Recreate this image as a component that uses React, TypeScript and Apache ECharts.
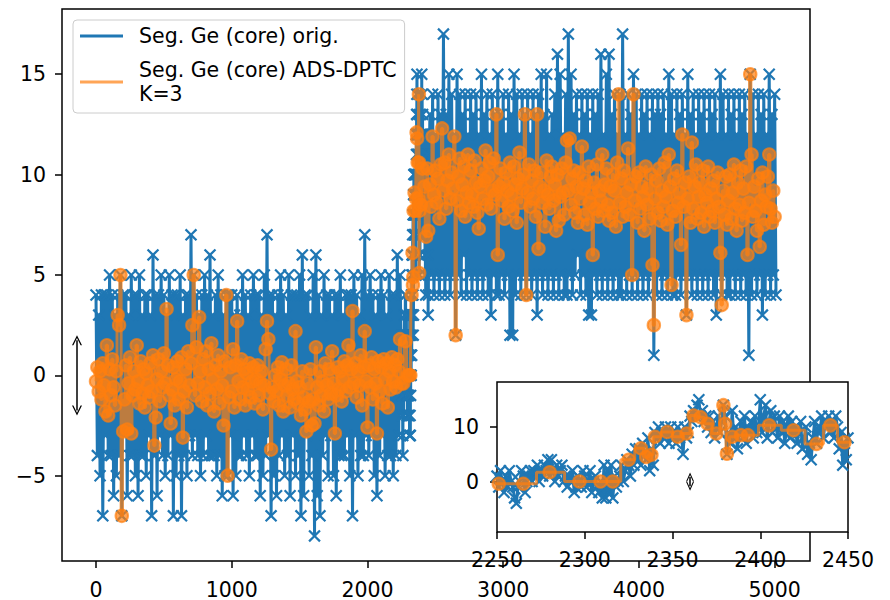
import React, { useEffect, useRef } from 'react';
import * as echarts from 'echarts';

// ---------------- data ----------------
// blue, low segment, local max/min read every 10 samples: x = 0, 10, ..., 2240
const blueLowStart = 0;
const blueLowStep = 10;
const blueLow = [
  4, -4, 3, -5, 4, -7, 4, -3, 4, -4,
  5, -4, 4, -6, 3, -5, 4, -4, 5, -7,
  4, -3, 4, -6, 3, -4, 5, -4, 4, -5,
  4, -6, 5, -4, 3, -4, 4, -5, 4, -3,
  3, -7, 6, -4, 4, -6, 4, -3, 5, -4,
  4, -5, 3, -4, 5, -3, 4, -7, 4, -5,
  4, -4, 5, -7, 3, -4, 4, -5, 4, -3,
  7, -4, 5, -3, 4, -4, 3, -5, 4, -4,
  5, -3, 4, -4, 6, -4, 3, -4, 4, -5,
  5, -4, 4, -6, 3, -5, 4, -5, 4, -3,
  4, -6, 3, -5, 4, -4, 3, -4, 5, -3,
  4, -4, 3, -5, 4, -3, 5, -4, 4, -4,
  4, -6, 3, -5, 5, -4, 7, -3, 4, -7,
  4, -5, 3, -6, 4, -4, 5, -3, 4, -5,
  3, -4, 5, -6, 4, -3, 4, -5, 4, -4,
  5, -7, 6, -6, 4, -3, 4, -5, 3, -4,
  5, -8, 6, -6, 4, -7, 3, -4, 5, -3,
  4, -5, 4, -3, 3, -5, 4, -6, 4, -4,
  5, -4, 3, -4, 4, -3, 4, -5, 4, -7,
  5, -3, 4, -5, 3, -4, 5, -4, 7, -3,
  4, -4, 5, -3, 4, -5, 3, -6, 4, -4,
  5, -3, 4, -5, 3, -4, 5, -4, 4, -5,
  4, -4, 6, -3, 5,
];
// blue, every sample around the step (inset): x = 2250 ... 2450
const blueZoomStart = 2250;
const blueZoom = [
  1, -1, 2, 0, -2, 1, -1, 2, 0, -1,
  -3, -4, -1, 0, 2, 1, -2, 0, 1, 2,
  0, 2, 1, 3, 0, 2, 1, 3, 2, 4,
  1, 4, 2, 0, 3, 1, 2, 3, 0, 1,
  -1, 1, 0, 2, -2, -1, 1, 0, -1, 2,
  1, -1, 0, 2, -2, 0, 1, -1, -2, 0,
  -3, 3, -3, 2, -2, 3, -3, 1, -1, 0,
  1, 3, 0, 2, 4, 3, 1, 5, 3, 6,
  4, 6, 3, 7, 5, 4, 8, 2, 6, 3,
  9, 8, 10, 7, 9, 8, 10, 9, 7, 10,
  8, 9, 7, 10, 8, 9, 5, 10, 8, 9,
  12, 11, 13, 12, 14, 15, 12, 13, 11, 12,
  10, 12, 9, 11, 8, 10, 12, 9, 11, 14,
  12, 5, 9, 7, 13, 8, 10, 6, 9, 11,
  8, 12, 7, 10, 9, 11, 8, 12, 9, 10,
  15, 9, 12, 14, 8, 11, 13, 9, 12, 10,
  8, 12, 9, 11, 7, 10, 12, 8, 11, 9,
  10, 7, 9, 11, 6, 8, 10, 5, 7, 4,
  8, 11, 7, 10, 9, 12, 8, 11, 10, 12,
  9, 11, 8, 12, 10, 6, 9, 3, 7, 4,
  8,
];
// blue, high segment, local max/min every 10 samples: x = 2460, ..., 5010
const blueHighStart = 2460;
const blueHighStep = 10;
const blueHigh = [
  13, 5, 14, 4, 12, 5, 14, 4, 13, 5,
  17, 4, 13, 5, 15, 4, 14, 5, 12, 2,
  15, 5, 14, 4, 13, 6, 14, 4, 12, 5,
  14, 4, 13, 5, 14, 4, 12, 5, 15, 4,
  13, 5, 14, 4, 12, 3, 14, 5, 13, 4,
  15, 4, 13, 5, 14, 4, 12, 5, 14, 2,
  13, 2, 15, 4, 14, 5, 12, 4, 14, 5,
  13, 4, 14, 5, 12, 4, 14, 5, 13, 3,
  14, 5, 15, 4, 13, 5, 15, 4, 12, 5,
  13, 4, 14, 5, 16, 4, 15, 5, 12, 4,
  14, 4, 17, 5, 15, 4, 13, 5, 14, 6,
  12, 4, 14, 5, 13, 4, 14, 3, 12, 3,
  14, 5, 13, 4, 14, 5, 16, 4, 12, 5,
  15, 4, 16, 5, 13, 4, 14, 5, 12, 4,
  14, 4, 17, 5, 12, 4, 14, 5, 13, 4,
  15, 5, 14, 4, 12, 5, 14, 4, 13, 5,
  14, 4, 12, 5, 14, 1, 13, 4, 14, 5,
  13, 4, 14, 5, 12, 4, 15, 5, 14, 4,
  12, 4, 14, 5, 13, 4, 14, 5, 12, 3,
  15, 5, 13, 4, 14, 5, 12, 4, 14, 5,
  13, 4, 14, 5, 12, 4, 14, 5, 13, 4,
  14, 3, 12, 5, 15, 4, 14, 5, 12, 4,
  14, 4, 13, 5, 14, 4, 12, 5, 14, 4,
  13, 5, 14, 4, 12, 1, 15, 4, 14, 5,
  12, 4, 14, 5, 13, 3, 14, 4, 12, 5,
  15, 4, 13, 5, 14, 4,
];

// orange (ADS-DPTC), low segment: x = 0, 10, ..., 2240
const orangeLowStart = 0;
const orangeLowStep = 10;
const orangeLow = [
  -0.3, 0.4, -0.8, 0.2, -1.2, 0.6, -0.5, -1.8, 1.5, -2,
  0.3, -1, 0.8, -0.6, -1.5, 0.2, 3, 2.5, 5, -7,
  -2.8, -1.2, 0.5, -2.7, -0.4, 0.9, -2.9, -1, 0.2, -0.7,
  1.5, -0.3, -1.4, 0.7, -0.9, 0.3, -1.6, 0.1, -0.5, -1.1,
  0.6, -0.8, 1, -3.5, -2.1, -0.2, 0.8, -1.3, 0.2, -0.6,
  1.1, -0.4, 3.3, 0.5, -1, -2.4, -0.7, 0.4, -1.5, -0.2,
  0.7, -1.2, -0.3, 0.9, -3.1, -0.8, 0.3, -1.6, 1.2, -0.5,
  0.6, 2.5, 5, -1, 1.4, -0.4, 2.9, 0.2, -1.3, 0.8,
  -0.6, 1.2, -1.5, 0.3, -0.9, 1.6, -0.2, -1.8, 0.5, -0.7,
  1, -1.4, 0.2, -0.5, -2.5, 0.7, 4, -5, -1.1, 0.4,
  -0.8, 1.3, -1.6, 0.5, 2.7, -0.3, -1.2, 0.8, -0.6, 0.3,
  -1.5, 0.1, -0.7, 0.6, -1.1, -0.3, 0.4, -1.4, -0.2, 0.5,
  -1, -0.4, 0.2, -1.7, -0.5, 1.3, 2.7, 1.8, -0.9, -3.7,
  -0.6, -1.3, 0, -0.8, 0.4, -1.5, -0.2, 0.65, -1.8, -0.5,
  0.3, -1, -0.4, -1.6, 0.5, -0.7, -1.2, 2.2, -0.3, -1.4,
  -0.6, -2, 0.2, -1.1, -1.7, -2.8, -0.4, -1.3, 0.3, -2.5,
  -1.2, -2.4, 1.4, -0.6, -1.5, 0.2, -1, -0.3, -1.8, 0.6,
  -0.5, -1.2, 0.3, -0.9, 1.2, -0.4, -2.9, -1, 0.4, -0.7,
  0.2, -1.3, -0.2, 0.7, -0.8, 0.5, 1.5, -0.6, 0.3, 3.2,
  -0.4, 0.6, -1.1, 0.2, -0.5, 1, -1.5, 0.4, 2.2, -0.3,
  -2.6, 0.5, -0.6, 0.9, -1.2, 0.3, -0.4, -2.9, 0.7, -0.8,
  0.4, -1.4, 0.8, -0.2, 0.6, -1.6, 0.2, -0.7, 0.9, -0.3,
  0.5, -0.6, 0.8, 0.2, 1.8,
];
// orange points around the step (as seen in the inset)
const orangeZoomX = [
  2251, 2265, 2280, 2297, 2309, 2316, 2325, 2332, 2335, 2338,
  2340, 2347, 2353, 2358, 2362, 2366, 2370, 2375, 2379, 2380,
  2381, 2384, 2389, 2393, 2405, 2419, 2432, 2440, 2448,
];
const orangeZoomY = [
  -0.4, -0.4, 1.7, 0, 0, 0, 4, 6.1, 4.5, 4.9,
  8.2, 9.1, 8.2, 8.8, 12.1, 11.8, 10.6, 8.8, 14, 10.6,
  5.1, 8.2, 8.5, 8.5, 10.3, 9.4, 6.9, 10.3, 7.2,
];
// orange, high segment: x = 2460, 2470, ..., 5000
const orangeHighStart = 2460;
const orangeHighStep = 10;
const orangeHigh = [
  9.5, 8.4, 11.9, 9, 10.2, 8.6, 9.8, 7.8, 10.5, 12.3,
  9.2, 10.6, 8.3, 9.7, 11, 8.8, 10.1, 9.3, 11.9, 2,
  8.7, 9.9, 10.8, 8.2, 9.5, 10.4, 7.9, 9.1, 11, 8.6,
  10.2, 9, 8.4, 10.7, 9.6, 8.1, 7.3, 9.4, 10.3, 8.8,
  9.7, 11.2, 8.5, 9.9, 10.6, 8.3, 9.2, 10.8, 9, 13,
  6, 9.4, 10.3, 8.7, 9.6, 7.8, 10.1, 9.2, 8.4, 10.6,
  9, 8.2, 10.4, 9.5, 7.6, 9.8, 11.1, 8.6, 9.3, 10,
  13, 4, 9.1, 10.5, 8.4, 9.7, 8.8, 10.2, 7.9, 13,
  6.3, 9.4, 10.1, 8.6, 9.2, 7.4, 10.7, 9, 8.3, 9.9,
  10.4, 8.7, 9.5, 7.2, 10, 7.7, 8.9, 10.3, 9.1, 8,
  10.6, 11.7, 9.2, 11.8, 8.5, 9.8, 10.2, 8.1, 9.4, 7.6,
  10.1, 8.8, 11.4, 9.3, 8, 9.7, 7.5, 10.4, 8.6, 9.1,
  6, 9.6, 8.3, 10.5, 7.9, 9.2, 8.7, 11, 8.2, 9.5,
  10.3, 8.5, 7.7, 9.4, 8.1, 10, 9.2, 7.4, 10.6, 14,
  8.6, 9.8, 7.9, 10.2, 8.4, 9.1, 11.3, 8, 9.5, 5,
  14, 8.7, 9.9, 7.6, 10.1, 8.3, 9.4, 8.9, 7.2, 10.4,
  8.5, 9.3, 7.8, 10, 5.5, 2.5, 8.8, 9.7, 8.1, 10.3,
  7.7, 9.2, 8.4, 10.6, 8.9, 7.5, 11, 9.4, 4.5, 8.2,
  9.8, 7.9, 10.2, 8.6, 9.1, 6.5, 12, 8.4, 9.6, 3,
  8.8, 9.9, 7.6, 11.6, 8.3, 9.4, 10.5, 7.8, 8.9, 9.6,
  8.1, 10.2, 7.4, 9, 8.6, 10.4, 7.9, 9.3, 8.2, 9.7,
  7.6, 8.8, 10.1, 8.4, 6.1, 3.5, 9.2, 8, 9.9, 7.5,
  8.7, 10, 7.8, 9.1, 10.5, 8.3, 7.2, 9.6, 8.5, 10.2,
  7.7, 9.3, 8.1, 10.4, 6, 8.6, 15, 11, 7.9, 9.4,
  8.2, 7.2, 9.8, 6.4, 8.7, 10.1, 7.5, 9, 8.4, 9.9,
  11, 8.3, 7.6, 9.2, 7.9,
];

// annotation arrows (data units)
const arrowMain = { x: -140, half: 1.75 };
const arrowInset = { x: 2360, half: 0.85 };

// axes
const xMainRange = [-250.5, 5260.5];
const yRange = [-9.25, 18.25];
const xInsetRange = [2250, 2450];
const xTicksMain = [0, 1000, 2000, 3000, 4000, 5000];
const yTicksMain = [-5, 0, 5, 10, 15];
const xTicksInset = [2250, 2300, 2350, 2400, 2450];
const yTicksInset = [0, 10];

const nameOrig = 'Seg. Ge (core) orig.';
const nameDptc = 'Seg. Ge (core) ADS-DPTC\nK=3';

// ---------------- helpers ----------------
const BLUE = '#1f77b4';
const ORANGE_A = 'rgba(255,127,14,0.7)';
const FONT = 'DejaVu Sans';
const X_SYMBOL =
  'path://M0,1.5L1.5,0L6,4.5L10.5,0L12,1.5L7.5,6L12,10.5L10.5,12L6,7.5L1.5,12L0,10.5L4.5,6Z';
const CHEVRON = 'path://M0,10L5,0L10,10L8.6,10L5,2.8L1.4,10Z';

function seq(start: number, step: number, vals: number[]): number[][] {
  return vals.map((v, i) => [start + i * step, v]);
}

function blueData(): number[][] {
  return [
    ...seq(blueLowStart, blueLowStep, blueLow),
    ...seq(blueZoomStart, 1, blueZoom),
    ...seq(blueHighStart, blueHighStep, blueHigh),
  ];
}

function orangeData(): number[][] {
  return [
    ...seq(orangeLowStart, orangeLowStep, orangeLow),
    ...orangeZoomX.map((x, i) => [x, orangeZoomY[i]]),
    ...seq(orangeHighStart, orangeHighStep, orangeHigh),
  ];
}

const fmt = (v: number) => (v < 0 ? '\u2212' + Math.abs(v) : String(v));

function axis(gridIndex: number, range: number[], ticks: number[], z: number, margin: number) {
  return {
    type: 'value',
    gridIndex,
    min: range[0],
    max: range[1],
    z,
    axisLine: { show: false, onZero: false },
    splitLine: { show: false },
    axisTick: {
      show: true,
      length: 7,
      customValues: ticks,
      lineStyle: { color: '#000', width: 1.5 },
    },
    axisLabel: {
      customValues: ticks,
      formatter: fmt,
      fontSize: 20.5,
      fontFamily: FONT,
      color: '#000',
      margin,
    },
  };
}

function arrowLine(a: { x: number; half: number }, size: number[], z: number) {
  return {
    silent: true,
    z,
    symbol: [CHEVRON, CHEVRON],
    symbolSize: size,
    label: { show: false },
    emphasis: { disabled: true },
    lineStyle: { color: '#000', width: 1.5, type: 'solid' },
    itemStyle: { color: '#000' },
    data: [[{ coord: [a.x, a.half] }, { coord: [a.x, -a.half] }]],
  };
}

export default function App() {
  const ref = useRef<HTMLDivElement>(null);

  useEffect(() => {
    if (!ref.current) return;
    const chart = echarts.init(ref.current, undefined, { renderer: 'svg' });
    const blue = blueData();
    const orange = orangeData();

    const blueSeries = (name: string, idx: number, z: number) => ({
      name,
      type: 'line',
      xAxisIndex: idx,
      yAxisIndex: idx,
      data: blue,
      z,
      symbol: X_SYMBOL,
      symbolSize: 12.5,
      showAllSymbol: true,
      clip: true,
      silent: true,
      emphasis: { disabled: true },
      lineStyle: { color: BLUE, width: 3 },
      itemStyle: { color: BLUE },
    });
    const orangeSeries = (name: string, idx: number, z: number) => ({
      name,
      type: 'line',
      xAxisIndex: idx,
      yAxisIndex: idx,
      data: orange,
      z,
      step: 'middle',
      symbol: 'circle',
      symbolSize: 12.5,
      showAllSymbol: true,
      clip: true,
      silent: true,
      emphasis: { disabled: true },
      lineStyle: { color: ORANGE_A, width: 3 },
      itemStyle: { color: ORANGE_A, borderColor: ORANGE_A, borderWidth: 2 },
    });

    const option: any = {
      animation: false,
      backgroundColor: '#fff',
      textStyle: { fontFamily: FONT },
      grid: [
        {
          left: 62, top: 9, width: 748, height: 556,
          show: true, borderColor: '#000', borderWidth: 1.5,
          backgroundColor: 'transparent', z: 0,
        },
        {
          left: 497, top: 382, width: 351, height: 150,
          show: true, borderColor: '#000', borderWidth: 1.5,
          backgroundColor: '#fff', z: 10,
        },
      ],
      xAxis: [
        axis(0, xMainRange, xTicksMain, 1, 18),
        axis(1, xInsetRange, xTicksInset, 11, 17),
      ],
      yAxis: [
        axis(0, yRange, yTicksMain, 1, 16),
        axis(1, yRange, yTicksInset, 11, 18),
      ],
      legend: {
        data: [
          { name: nameOrig, icon: 'rect', itemStyle: { color: BLUE, borderWidth: 0 } },
          {
            name: nameDptc,
            icon: 'rect',
            itemStyle: { color: ORANGE_A, borderWidth: 0 },
            textStyle: { padding: [0, 0, 4, 11] },
          },
        ],
        orient: 'vertical',
        left: 73,
        top: 20,
        icon: 'rect',
        itemWidth: 43,
        itemHeight: 3,
        itemGap: 8,
        selectedMode: false,
        itemStyle: { borderWidth: 0 },
        textStyle: {
          fontSize: 20.5,
          lineHeight: 24,
          fontFamily: FONT,
          color: '#000',
          padding: [0, 0, 0, 11],
        },
        padding: [4, 8, 5, 7],
        backgroundColor: 'rgba(255,255,255,0.8)',
        borderColor: '#cccccc',
        borderWidth: 1,
        borderRadius: 4,
        z: 20,
      },
      series: [
        { ...blueSeries(nameOrig, 0, 2), markLine: arrowLine(arrowMain, [10, 10], 5) },
        orangeSeries(nameDptc, 0, 3),
        blueSeries('inset orig', 1, 12),
        { ...orangeSeries('inset dptc', 1, 13), markLine: arrowLine(arrowInset, [8, 9], 15) },
      ],
    };
    chart.setOption(option);
    return () => chart.dispose();
  }, []);

  return (
    <div
      ref={ref}
      style={{ position: 'fixed', left: 0, top: 0, width: 890, height: 600, background: '#fff' }}
    />
  );
}
